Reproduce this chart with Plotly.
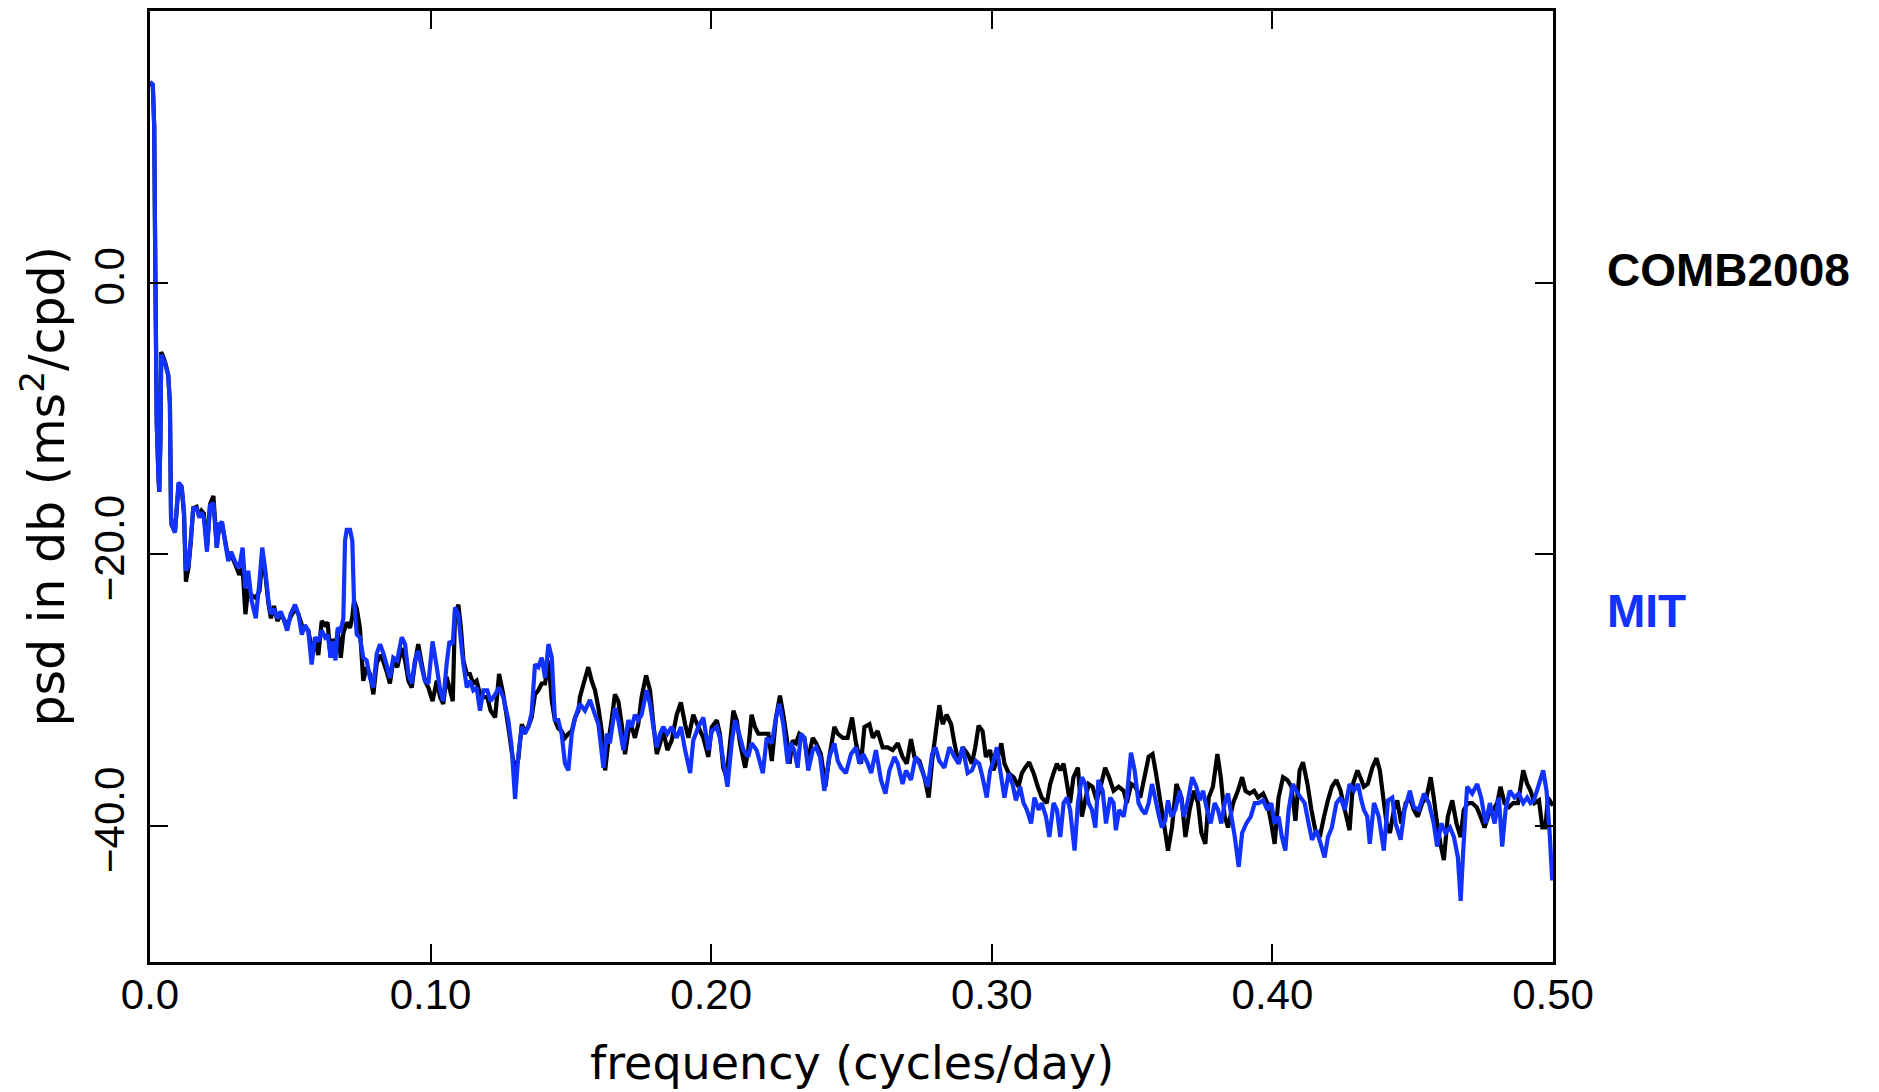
import plotly.graph_objects as go

# ---------------- data ----------------
# low-frequency part: common frequency samples for both series
freq_low = [0.0000, 0.0010, 0.0015, 0.0019, 0.0024, 0.0030, 0.0033, 0.0037, 0.0040, 0.0048,
            0.0056, 0.0065, 0.0071, 0.0075, 0.0077, 0.0083, 0.0089, 0.0095, 0.0102, 0.0113,
            0.0121, 0.0128, 0.0137, 0.0145, 0.0154, 0.0166, 0.0176, 0.0184, 0.0192, 0.0203,
            0.0214, 0.0226, 0.0238, 0.0247, 0.0257, 0.0267, 0.0279, 0.0289, 0.0299, 0.0309,
            0.0318, 0.0330, 0.0340, 0.0350, 0.0362, 0.0377, 0.0390, 0.0400, 0.0410, 0.0422,
            0.0431, 0.0442, 0.0454, 0.0466, 0.0478, 0.0489, 0.0501, 0.0517, 0.0529, 0.0541,
            0.0552, 0.0564, 0.0576, 0.0588, 0.0600, 0.0612, 0.0624, 0.0633, 0.0644, 0.0653,
            0.0661, 0.0669, 0.0680, 0.0689, 0.0695, 0.0701, 0.0713, 0.0721, 0.0727, 0.0737,
            0.0748, 0.0760, 0.0772, 0.0784, 0.0796, 0.0808, 0.0820, 0.0832, 0.0843, 0.0855,
            0.0867, 0.0881, 0.0897, 0.0909, 0.0921, 0.0933, 0.0944, 0.0956, 0.0968, 0.0980,
            0.0992, 0.1007, 0.1022, 0.1034, 0.1045, 0.1057, 0.1067, 0.1079, 0.1087, 0.1099,
            0.1108, 0.1117, 0.1129, 0.1140, 0.1152, 0.1164, 0.1176, 0.1188, 0.1202, 0.1214,
            0.1230, 0.1244, 0.1259, 0.1277, 0.1289, 0.1301, 0.1313, 0.1325, 0.1336, 0.1348,
            0.1360, 0.1372, 0.1384, 0.1396, 0.1408, 0.1420, 0.1432, 0.1443, 0.1455, 0.1467,
            0.1479, 0.1491, 0.1503, 0.1515, 0.1527]

mit_low = [14.8, 14.6, 11.5, 0.9, -10.3, -14.2, -15.4, -11.7, -5.3, -5.7,
           -6.1, -6.8, -8.9, -17.3, -17.8, -18.1, -18.4, -16.6, -14.7, -15.0,
           -16.8, -21.2, -20.8, -19.0, -16.6, -16.6, -17.3, -16.9, -17.3, -19.8,
           -16.4, -16.2, -19.5, -17.8, -17.6, -19.0, -20.5, -19.8, -20.3, -20.8,
           -21.0, -19.5, -22.5, -21.2, -23.4, -24.7, -22.0, -19.5, -21.0, -23.4,
           -24.4, -24.0, -24.7, -24.2, -24.9, -25.6, -24.4, -23.7, -24.4, -25.9,
           -25.2, -25.6, -28.1, -26.1, -26.4, -25.6, -26.1, -25.9, -27.6, -26.4,
           -27.8, -25.4, -25.6, -24.7, -19.0, -18.2, -18.2, -19.0, -23.4, -25.9,
           -26.1, -27.6, -27.8, -29.1, -29.8, -27.3, -26.6, -27.3, -28.1, -29.1,
           -27.6, -27.8, -26.1, -26.6, -28.8, -29.5, -27.8, -27.1, -28.3, -29.3,
           -29.5, -26.4, -28.3, -30.0, -30.8, -28.1, -26.4, -26.6, -23.9, -24.4,
           -26.4, -28.1, -29.8, -29.3, -30.0, -29.8, -31.5, -30.0, -30.0, -30.8,
           -30.3, -29.8, -30.5, -32.2, -34.2, -38.0, -34.7, -32.7, -33.2, -32.7,
           -31.7, -28.1, -28.3, -27.6, -29.1, -26.6, -27.6, -32.2, -32.2, -33.2,
           -35.4, -35.9, -33.2, -32.0, -31.3]

comb_low = [14.7, 14.5, 11.5, 0.9, -10.3, -14.2, -15.4, -11.7, -5.1, -5.5,
            -6.0, -6.8, -8.9, -17.3, -17.8, -18.1, -18.3, -16.8, -14.8, -15.1,
            -17.0, -22.0, -21.0, -19.2, -16.6, -16.5, -17.2, -16.8, -17.0, -19.5,
            -16.3, -15.7, -19.5, -17.8, -17.8, -18.9, -20.3, -20.0, -20.5, -21.0,
            -21.5, -21.0, -24.4, -22.5, -23.0, -23.2, -22.7, -20.5, -21.3, -23.6,
            -24.7, -23.8, -24.9, -24.4, -24.8, -25.3, -24.6, -24.0, -24.4, -25.2,
            -25.4, -25.6, -26.9, -26.4, -27.4, -24.9, -25.2, -25.0, -27.6, -26.2,
            -27.0, -25.6, -27.6, -25.8, -25.4, -25.0, -25.4, -24.6, -23.4, -24.0,
            -25.4, -29.3, -28.3, -28.8, -30.3, -28.0, -27.4, -27.9, -28.6, -29.5,
            -27.8, -28.3, -26.9, -27.8, -29.3, -29.8, -28.0, -26.6, -28.0, -29.3,
            -29.8, -30.8, -29.3, -30.5, -31.0, -29.0, -29.8, -30.8, -24.4, -23.7,
            -25.4, -27.8, -28.8, -28.8, -29.5, -29.3, -30.3, -30.5, -30.5, -31.5,
            -32.0, -28.8, -30.3, -32.7, -34.5, -36.0, -35.0, -32.5, -33.0, -32.7,
            -32.0, -30.3, -30.0, -29.5, -29.5, -27.8, -30.8, -32.2, -32.8, -33.0,
            -33.5, -33.2, -33.0, -32.0, -31.5]

# COMB2008, higher frequencies
comb_freq_a = [0.1532, 0.1544, 0.1562, 0.1574, 0.1586, 0.1598, 0.1610, 0.1622, 0.1633, 0.1645,
               0.1657, 0.1669, 0.1681, 0.1693, 0.1705, 0.1717, 0.1728, 0.1740, 0.1752, 0.1768,
               0.1782, 0.1794, 0.1806, 0.1818, 0.1829, 0.1844, 0.1859, 0.1877, 0.1892, 0.1907,
               0.1919, 0.1936, 0.1954, 0.1972, 0.1990, 0.2002, 0.2020, 0.2031, 0.2043, 0.2055,
               0.2067, 0.2079, 0.2091, 0.2103, 0.2121, 0.2132, 0.2144, 0.2156, 0.2168, 0.2186,
               0.2204, 0.2216]
comb_psd_a = [-30.5, -29.6, -28.3, -29.3, -30.0, -31.3, -33.0, -35.9, -33.9, -32.2,
              -30.3, -30.8, -32.5, -34.7, -33.0, -32.7, -33.5, -32.5, -30.5, -28.9,
              -30.0, -32.5, -34.7, -33.9, -33.0, -34.4, -33.7, -31.8, -30.9, -32.5,
              -33.5, -31.8, -32.7, -33.5, -34.9, -32.7, -32.2, -33.2, -35.7, -36.4,
              -33.9, -31.5, -32.2, -33.9, -35.7, -34.4, -31.8, -32.7, -33.2, -33.2,
              -33.2, -35.2]

comb_freq_b = [0.2231, 0.2245, 0.2257, 0.2269, 0.2279, 0.2290, 0.2302, 0.2314, 0.2332, 0.2344,
               0.2362, 0.2374, 0.2391, 0.2407, 0.2421, 0.2439, 0.2451, 0.2469, 0.2486, 0.2502,
               0.2516, 0.2534, 0.2546, 0.2564, 0.2576, 0.2593, 0.2611, 0.2629, 0.2647, 0.2665,
               0.2682, 0.2697, 0.2712, 0.2724, 0.2742, 0.2760, 0.2775, 0.2789, 0.2801, 0.2813,
               0.2825, 0.2839, 0.2855, 0.2867, 0.2882, 0.2896, 0.2914]
comb_psd_b = [-32.0, -30.4, -31.8, -33.5, -35.4, -33.7, -33.9, -33.2, -33.5, -35.2,
              -33.5, -33.9, -34.7, -37.1, -34.9, -32.7, -33.2, -33.5, -33.5, -32.0,
              -33.9, -35.4, -32.7, -32.5, -33.5, -33.0, -34.2, -34.2, -34.4, -33.9,
              -34.9, -35.4, -33.6, -34.9, -35.2, -36.4, -37.9, -34.9, -33.0, -31.1,
              -32.5, -31.8, -32.5, -33.9, -35.4, -34.2, -34.7]

comb_freq_c = [0.2929, 0.2941, 0.2953, 0.2967, 0.2979, 0.2994, 0.3006, 0.3022, 0.3034, 0.3045,
               0.3060, 0.3078, 0.3095, 0.3107, 0.3119, 0.3133, 0.3149, 0.3164, 0.3178, 0.3196,
               0.3208, 0.3220, 0.3232, 0.3244, 0.3256, 0.3268, 0.3279, 0.3291, 0.3307, 0.3321,
               0.3333, 0.3345, 0.3359, 0.3374, 0.3390, 0.3404, 0.3418, 0.3434, 0.3452, 0.3470,
               0.3481, 0.3497, 0.3511, 0.3529, 0.3544, 0.3559, 0.3573, 0.3585, 0.3600, 0.3612]
comb_psd_c = [-35.4, -34.2, -32.6, -33.0, -34.9, -34.4, -35.9, -34.9, -33.9, -35.4,
              -36.1, -36.4, -37.1, -36.1, -35.7, -35.3, -36.1, -37.1, -37.9, -38.3,
              -36.9, -36.1, -35.4, -35.9, -35.4, -36.9, -38.3, -36.4, -35.7, -39.3,
              -38.1, -36.9, -37.1, -38.1, -36.9, -35.7, -36.4, -37.4, -37.1, -37.4,
              -38.3, -36.9, -37.1, -37.9, -36.4, -34.9, -34.7, -36.1, -38.1, -39.6]

comb_freq_d = [0.3628, 0.3642, 0.3658, 0.3676, 0.3690, 0.3705, 0.3721, 0.3735, 0.3747, 0.3761,
               0.3773, 0.3788, 0.3804, 0.3816, 0.3830, 0.3842, 0.3860, 0.3877, 0.3892, 0.3904,
               0.3919, 0.3935, 0.3949, 0.3967, 0.3982, 0.3996, 0.4008, 0.4022, 0.4038, 0.4053,
               0.4068, 0.4082, 0.4097, 0.4109, 0.4125, 0.4139, 0.4153, 0.4169, 0.4184, 0.4198,
               0.4212, 0.4228, 0.4243, 0.4258, 0.4275, 0.4287, 0.4303, 0.4317]
comb_psd_d = [-41.8, -40.1, -36.9, -37.9, -40.8, -38.8, -37.4, -38.3, -40.5, -41.3,
              -37.9, -37.1, -34.7, -36.4, -39.3, -40.1, -38.3, -37.4, -36.4, -37.4,
              -37.6, -37.4, -37.9, -37.6, -38.3, -39.8, -41.3, -37.9, -36.4, -36.6,
              -37.1, -39.6, -35.9, -35.3, -36.9, -38.8, -40.3, -40.8, -39.3, -38.1,
              -37.1, -36.6, -37.4, -38.8, -40.3, -36.9, -35.9, -36.6]

comb_freq_e = [0.4326, 0.4340, 0.4356, 0.4371, 0.4383, 0.4395, 0.4407, 0.4419, 0.4433, 0.4445,
               0.4459, 0.4475, 0.4490, 0.4504, 0.4518, 0.4534, 0.4549, 0.4564, 0.4575, 0.4587,
               0.4599, 0.4611, 0.4625, 0.4641, 0.4656, 0.4671, 0.4682, 0.4697, 0.4712, 0.4728,
               0.4742, 0.4756, 0.4772, 0.4787, 0.4801, 0.4813, 0.4827, 0.4843, 0.4858, 0.4875,
               0.4894, 0.4908, 0.4920, 0.4934, 0.4950, 0.4962, 0.4973, 0.4982, 0.5000]
comb_psd_e = [-37.1, -36.9, -35.7, -35.0, -35.9, -37.9, -39.8, -40.5, -38.8, -38.1,
              -39.8, -38.3, -37.9, -38.8, -39.3, -38.3, -37.9, -36.4, -37.9, -39.8,
              -41.3, -42.5, -39.3, -38.1, -39.8, -40.8, -38.8, -38.3, -38.3, -38.6,
              -39.3, -40.1, -39.1, -38.8, -38.3, -37.1, -38.3, -38.6, -38.3, -38.3,
              -35.9, -36.9, -37.4, -38.3, -38.1, -40.1, -40.1, -37.9, -38.5]

# MIT, higher frequencies
mit_freq_a = [0.1532, 0.1550, 0.1568, 0.1586, 0.1598, 0.1616, 0.1628, 0.1639, 0.1657, 0.1669,
              0.1687, 0.1705, 0.1717, 0.1728, 0.1740, 0.1752, 0.1770, 0.1782, 0.1794, 0.1806,
              0.1818, 0.1829, 0.1844, 0.1859, 0.1877, 0.1892, 0.1907, 0.1925, 0.1936, 0.1954,
              0.1972, 0.1990, 0.2002, 0.2020, 0.2031, 0.2043, 0.2058, 0.2073, 0.2085, 0.2097,
              0.2115, 0.2132, 0.2144, 0.2162, 0.2184, 0.2198, 0.2216]
mit_psd_a = [-31.0, -31.5, -30.7, -31.8, -32.5, -35.7, -33.2, -33.9, -31.3, -32.2,
             -34.4, -32.2, -32.7, -31.8, -32.2, -31.8, -30.0, -31.0, -32.7, -34.2,
             -33.2, -32.7, -33.2, -32.7, -33.5, -32.7, -34.4, -36.1, -33.7, -32.7,
             -32.0, -34.4, -33.0, -32.7, -33.5, -35.2, -37.1, -33.9, -32.2, -33.0,
             -34.4, -34.9, -33.9, -34.4, -36.1, -33.5, -33.9]

mit_freq_b = [0.2231, 0.2243, 0.2257, 0.2273, 0.2284, 0.2296, 0.2308, 0.2320, 0.2332, 0.2346,
              0.2362, 0.2374, 0.2388, 0.2403, 0.2421, 0.2439, 0.2451, 0.2463, 0.2480, 0.2498,
              0.2516, 0.2528, 0.2542, 0.2558, 0.2570, 0.2587, 0.2605, 0.2621, 0.2635, 0.2653,
              0.2665, 0.2682, 0.2694, 0.2712, 0.2728, 0.2742, 0.2760, 0.2772, 0.2787, 0.2799,
              0.2813, 0.2831, 0.2849, 0.2867, 0.2882, 0.2896, 0.2914]
mit_psd_b = [-32.0, -31.0, -32.5, -35.4, -33.9, -34.4, -35.7, -33.2, -33.5, -35.9,
             -34.4, -34.2, -34.9, -37.4, -34.9, -33.9, -35.2, -35.7, -36.1, -34.7,
             -34.2, -35.4, -34.7, -35.4, -36.1, -34.4, -36.6, -37.6, -35.9, -34.9,
             -35.4, -36.9, -35.9, -36.6, -34.9, -35.4, -36.4, -37.1, -34.7, -34.2,
             -35.2, -35.7, -34.2, -34.9, -35.4, -34.2, -36.1]

mit_freq_c = [0.2929, 0.2943, 0.2955, 0.2967, 0.2982, 0.2994, 0.3006, 0.3018, 0.3030, 0.3045,
              0.3060, 0.3074, 0.3086, 0.3101, 0.3113, 0.3125, 0.3140, 0.3152, 0.3167, 0.3178,
              0.3193, 0.3205, 0.3220, 0.3232, 0.3244, 0.3256, 0.3268, 0.3279, 0.3295, 0.3307,
              0.3321, 0.3333, 0.3345, 0.3357, 0.3369, 0.3380, 0.3395, 0.3407, 0.3422, 0.3434,
              0.3442, 0.3454, 0.3470, 0.3481, 0.3496, 0.3509, 0.3523, 0.3535, 0.3547, 0.3559,
              0.3571, 0.3582, 0.3594, 0.3606, 0.3618]
mit_psd_c = [-35.9, -35.2, -35.4, -36.4, -37.9, -35.9, -35.2, -34.2, -35.9, -37.9,
             -36.1, -36.9, -38.1, -37.1, -38.3, -38.8, -39.8, -37.9, -38.8, -38.3,
             -39.3, -40.8, -38.3, -38.8, -40.8, -38.3, -37.9, -38.8, -41.8, -38.3,
             -36.4, -36.9, -38.3, -38.8, -40.1, -36.6, -37.4, -39.8, -37.9, -38.3,
             -40.3, -38.8, -39.3, -37.9, -34.6, -35.9, -38.3, -38.8, -39.1, -38.3,
             -36.9, -37.9, -39.1, -40.1, -39.6]

mit_freq_d = [0.3628, 0.3640, 0.3654, 0.3670, 0.3685, 0.3699, 0.3714, 0.3729, 0.3741, 0.3753,
              0.3765, 0.3780, 0.3794, 0.3806, 0.3818, 0.3830, 0.3842, 0.3854, 0.3866, 0.3880,
              0.3892, 0.3907, 0.3923, 0.3937, 0.3951, 0.3967, 0.3982, 0.3996, 0.4008, 0.4022,
              0.4034, 0.4046, 0.4058, 0.4073, 0.4085, 0.4101, 0.4115, 0.4129, 0.4141, 0.4157,
              0.4172, 0.4186, 0.4198, 0.4212, 0.4228, 0.4243, 0.4258, 0.4275, 0.4291, 0.4305,
              0.4317]
mit_psd_d = [-38.1, -39.3, -38.8, -37.4, -39.3, -38.1, -36.4, -37.1, -38.1, -37.4,
             -38.6, -39.8, -38.3, -38.8, -39.8, -38.3, -37.6, -39.3, -40.8, -43.0,
             -40.5, -39.8, -39.3, -38.3, -38.3, -38.1, -38.8, -38.3, -39.8, -39.3,
             -40.8, -41.8, -38.8, -36.9, -37.4, -37.9, -38.3, -39.8, -41.0, -40.3,
             -41.3, -42.3, -40.8, -40.1, -38.3, -37.9, -38.8, -36.9, -37.4, -36.9,
             -38.1]

mit_freq_e = [0.4326, 0.4338, 0.4347, 0.4362, 0.4379, 0.4397, 0.4412, 0.4427, 0.4439, 0.4457,
              0.4471, 0.4490, 0.4504, 0.4522, 0.4540, 0.4558, 0.4575, 0.4587, 0.4602, 0.4617,
              0.4633, 0.4647, 0.4661, 0.4671, 0.4680, 0.4694, 0.4712, 0.4730, 0.4744, 0.4760,
              0.4775, 0.4792, 0.4807, 0.4819, 0.4831, 0.4846, 0.4863, 0.4878, 0.4894, 0.4908,
              0.4920, 0.4932, 0.4950, 0.4965, 0.4977, 0.4989, 0.4997]
mit_psd_e = [-38.8, -39.3, -41.3, -38.3, -39.3, -41.8, -38.1, -37.9, -39.8, -41.0,
             -38.8, -37.4, -38.6, -38.8, -37.6, -38.3, -39.8, -41.5, -39.8, -40.5,
             -40.1, -40.8, -42.3, -45.5, -41.8, -37.1, -37.6, -36.9, -37.9, -39.8,
             -38.3, -39.8, -37.9, -41.5, -38.8, -37.4, -37.9, -37.6, -38.3, -37.9,
             -38.3, -38.1, -36.9, -35.9, -37.4, -40.8, -44.0]

x_tickvals = [0.0, 0.1, 0.2, 0.3, 0.4, 0.5]
x_ticktext = ["0.0", "0.10", "0.20", "0.30", "0.40", "0.50"]
y_tickvals = [0, -20, -40]
y_ticktext = ["0.0", "\u221220.0", "\u221240.0"]

series_names = ["COMB2008", "MIT"]
series_colors = ["#000000", "#1233FF"]

# ---------------- assemble ----------------
freq_comb = freq_low + comb_freq_a + comb_freq_b + comb_freq_c + comb_freq_d + comb_freq_e
psd_comb = comb_low + comb_psd_a + comb_psd_b + comb_psd_c + comb_psd_d + comb_psd_e
freq_mit = freq_low + mit_freq_a + mit_freq_b + mit_freq_c + mit_freq_d + mit_freq_e
psd_mit = mit_low + mit_psd_a + mit_psd_b + mit_psd_c + mit_psd_d + mit_psd_e

fig = go.Figure()
fig.add_trace(go.Scatter(x=freq_comb, y=psd_comb, mode="lines", name=series_names[0],
                         line=dict(color=series_colors[0], width=4.2, simplify=False),
                         showlegend=False, hoverinfo="skip"))
fig.add_trace(go.Scatter(x=freq_mit, y=psd_mit, mode="lines", name=series_names[1],
                         line=dict(color=series_colors[1], width=4.2, simplify=False),
                         showlegend=False, hoverinfo="skip"))

axis_common = dict(showgrid=False, zeroline=False, showline=True, linewidth=3,
                   linecolor="black", ticks="inside", ticklen=18, tickwidth=2,
                   tickcolor="black", mirror="allticks")

fig.update_layout(
    width=1879, height=1092,
    margin=dict(l=150, r=326, t=8, b=130),
    paper_bgcolor="white", plot_bgcolor="white",
    font=dict(family="Liberation Sans", color="black"),
    xaxis=dict(range=[0, 0.5], tickvals=x_tickvals, ticktext=x_ticktext,
               tickfont=dict(size=42, family="Liberation Sans"),
               ticklabelstandoff=-6, **axis_common),
    yaxis=dict(range=[-50, 20], tickvals=y_tickvals, ticktext=y_ticktext,
               tickangle=-90, tickfont=dict(size=42, family="Liberation Sans"),
               ticklabelstandoff=6, **axis_common),
    annotations=[
        dict(text="frequency (cycles/day)", x=0.5, y=-0.106, xref="paper", yref="paper",
             showarrow=False, xanchor="center", yanchor="middle",
             font=dict(family="DejaVu Sans", size=46, color="black")),
        dict(text="psd in db (ms<sup>2</sup>/cpd)", x=-0.0755, y=0.5, xref="paper",
             yref="paper", showarrow=False, textangle=-90, xanchor="center",
             yanchor="middle", font=dict(family="DejaVu Sans", size=49, color="black")),
        dict(text="<b>" + series_names[0] + "</b>", x=1.037, y=0.7275, xref="paper",
             yref="paper", showarrow=False, xanchor="left", yanchor="middle",
             font=dict(family="Liberation Sans", size=46, color=series_colors[0])),
        dict(text="<b>" + series_names[1] + "</b>", x=1.037, y=0.369, xref="paper",
             yref="paper", showarrow=False, xanchor="left", yanchor="middle",
             font=dict(family="Liberation Sans", size=46, color=series_colors[1])),
    ],
)

fig.write_html("out.html")
